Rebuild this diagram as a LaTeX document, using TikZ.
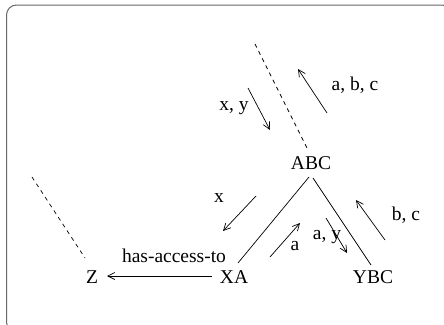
\documentclass[tikz,border=0pt]{standalone}
\usepackage{fontspec}
\setmainfont{Liberation Serif}
\usetikzlibrary{arrows.meta}
\begin{document}
\begin{tikzpicture}[x=1pt,y=-1pt,
  lbl/.style={font=\fontsize{19.5}{21}\selectfont, inner sep=1pt},
  obj/.style={font=\fontsize{19.5}{21}\selectfont, inner sep=1pt},
  flow/.style={draw, line width=0.7pt, -{Straight Barb[length=7pt,width=7pt]}},
  link/.style={draw, line width=0.7pt},
  hint/.style={draw, line width=0.7pt, dash pattern=on 4pt off 4pt}]
\useasboundingbox (0,0) rectangle (444,324);
% frame
\draw[gray!80!black, line width=1pt, rounded corners=10pt] (6.5,5) rectangle (452,332);

% objects
\node[obj] (abc) at (311,163) {ABC};
\node[obj] (xa)  at (234,277) {XA};
\node[obj] (ybc) at (373,277) {YBC};
\node[obj] (z)   at (92,277)  {Z};

% structure
\draw[link] (309,177) -- (238,263);
\draw[link] (313,178) -- (371,265);
\coordinate (xaw) at (212,276);
\coordinate (zend) at (107,276);
\draw[flow] (xaw) -- (zend);
\node[lbl] (acc) at (174,256) {has-access-to};

% dashed hints
\coordinate (d1a) at (255,44);  \coordinate (d1b) at (307,148);
\coordinate (d2a) at (32,177);  \coordinate (d2b) at (85,258);
\draw[hint] (d1a) -- (d1b);
\draw[hint] (d2a) -- (d2b);

% message arrows
\coordinate (m1a) at (248,88);  \coordinate (m1b) at (270,130);
\coordinate (m2a) at (327,113); \coordinate (m2b) at (298,69);
\coordinate (m3a) at (256,196); \coordinate (m3b) at (223,231);
\coordinate (m4a) at (270,257); \coordinate (m4b) at (300,223);
\coordinate (m5a) at (326,218); \coordinate (m5b) at (347,253);
\coordinate (m6a) at (385,240); \coordinate (m6b) at (356,200);
\draw[flow] (m1a) -- (m1b);
\draw[flow] (m2a) -- (m2b);
\draw[flow] (m3a) -- (m3b);
\draw[flow] (m4a) -- (m4b);
\draw[flow] (m5a) -- (m5b);
\draw[flow] (m6a) -- (m6b);

\node[lbl] (t1) at (234,108) {x, y};
\node[lbl] (t2) at (355,85)  {a, b, c};
\node[lbl] (t3) at (219,198) {x};
\node[lbl] (t4) at (295,246) {a};
\node[lbl] (t5) at (327,237) {a, y};
\node[lbl] (t6) at (406,215) {b, c};
\end{tikzpicture}
\end{document}
